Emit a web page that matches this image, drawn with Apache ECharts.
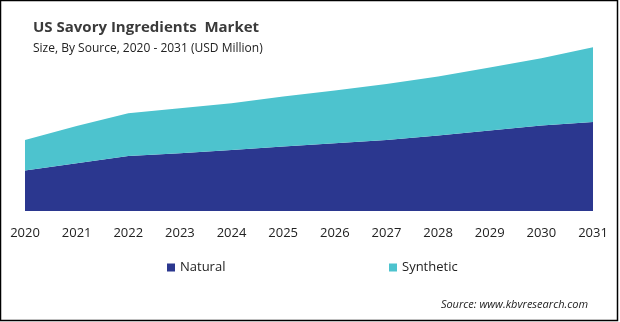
<!DOCTYPE html>
<html>
<head>
<meta charset="utf-8">
<script src="https://cdn.jsdelivr.net/npm/echarts@6/dist/echarts.min.js"></script>
<style>
html,body{margin:0;padding:0;background:#fff;}
#chart{width:620px;height:322px;}
</style>
</head>
<body>
<div id="chart"></div>
<script>
var years = ['2020','2021','2022','2023','2024','2025','2026','2027','2028','2029','2030','2031'];
var natural = [202, 239, 275, 289, 305, 322, 339, 355, 377, 402, 427, 445];
var synthetic = [153, 186, 214, 225, 234, 250, 263, 280, 295, 315, 337, 374];

var FONT = '"Open Sans", "Noto Sans", sans-serif';
var chart = echarts.init(document.getElementById('chart'), null, {renderer: 'canvas'});
chart.setOption({
  animation: false,
  backgroundColor: '#fff',
  textStyle: {fontFamily: FONT},
  title: [{
    text: 'US Savory Ingredients  Market',
    left: 28, top: 15,
    textStyle: {fontFamily: FONT, fontSize: 15, fontWeight: 'bold', color: '#3a3a3a'}
  }, {
    text: 'Size, By Source, 2020 - 2031 (USD Million)',
    left: 28, top: 38,
    textStyle: {fontFamily: FONT, fontSize: 12, fontWeight: 'normal', color: '#222'}
  }, {
    text: 'Source: www.kbvresearch.com',
    right: 27, top: 294,
    textStyle: {fontFamily: FONT, fontSize: 11, fontStyle: 'italic', fontWeight: 'normal', color: '#222'}
  }],
  legend: [{
    data: ['Natural'], left: 162, top: 256,
    icon: 'rect', itemWidth: 8, itemHeight: 8, itemGap: 6,
    textStyle: {fontFamily: FONT, fontSize: 13, color: '#222'}
  }, {
    data: ['Synthetic'], left: 384, top: 256,
    icon: 'rect', itemWidth: 8, itemHeight: 8, itemGap: 6,
    textStyle: {fontFamily: FONT, fontSize: 13, color: '#222'}
  }],
  grid: {left: 25, right: 27, top: 11, bottom: 111, containLabel: false},
  xAxis: {
    type: 'category', data: years, boundaryGap: false,
    axisLine: {show: false}, axisTick: {show: false}, splitLine: {show: false},
    axisLabel: {fontFamily: FONT, fontSize: 13, color: '#222', margin: 16, interval: 0}
  },
  yAxis: {type: 'value', min: 0, max: 1000, show: false, splitLine: {show: false}},
  series: [{
    name: 'Natural', type: 'line', stack: 'total', data: natural,
    symbol: 'none', lineStyle: {width: 0}, color: '#2B378F',
    areaStyle: {color: '#2B378F', opacity: 1}
  }, {
    name: 'Synthetic', type: 'line', stack: 'total', data: synthetic,
    symbol: 'none', lineStyle: {width: 0}, color: '#4DC3CE',
    areaStyle: {color: '#4DC3CE', opacity: 1}
  }],
  graphic: [{
    type: 'rect', shape: {x: 0.5, y: 0.5, width: 617, height: 320},
    style: {fill: 'none', stroke: '#000', lineWidth: 1.5}, silent: true
  }]
});
</script>
</body>
</html>
